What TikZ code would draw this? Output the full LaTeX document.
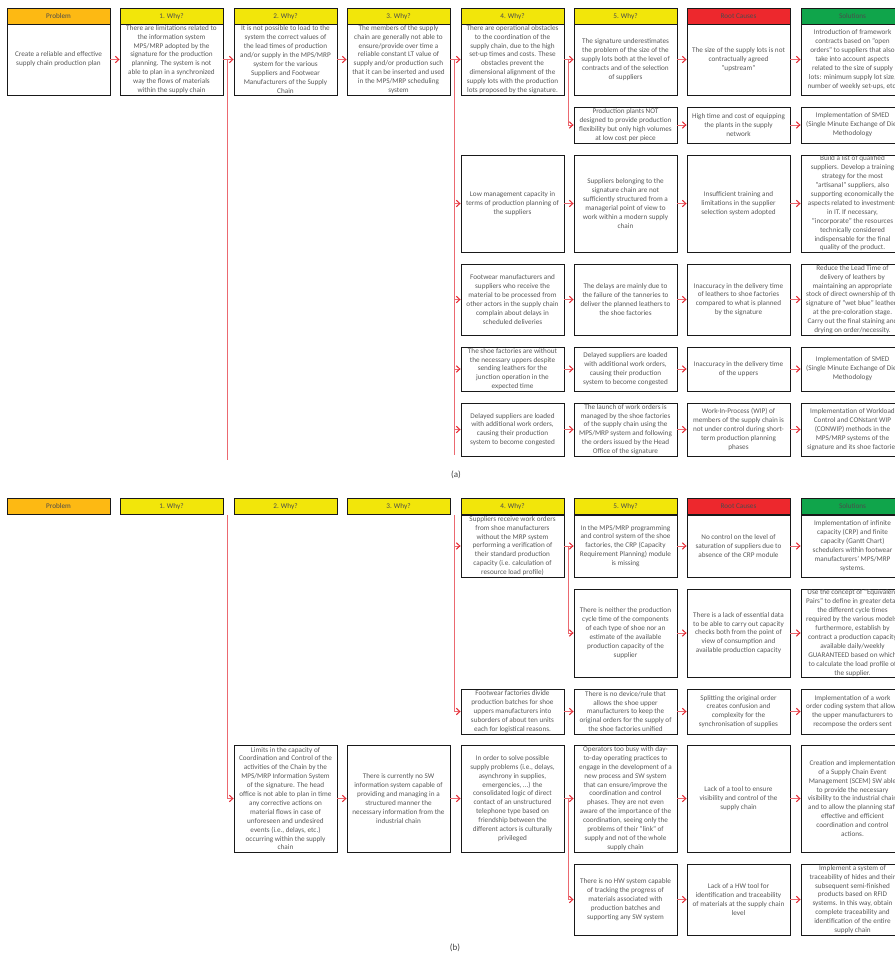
\documentclass[tikz,border=0pt]{standalone}
\usepackage{fontspec}
\setmainfont{Carlito}
\usetikzlibrary{arrows.meta}

\definecolor{probfill}{RGB}{253,185,19}
\definecolor{whyfill}{RGB}{242,230,10}
\definecolor{rootfill}{RGB}{237,40,45}
\definecolor{solfill}{RGB}{16,165,75}
\definecolor{linkpink}{RGB}{235,105,112}
\definecolor{tipred}{RGB}{228,38,48}
\definecolor{boxtext}{RGB}{89,89,89}

% column centres
\def\cP{58.5}
\def\cA{171.5}
\def\cB{285.5}
\def\cC{398.5}
\def\cD{512.5}
\def\cE{625.5}
\def\cR{738.5}
\def\cS{852.5}

% name, x, top, bottom, text
\newcommand{\bodycell}[5]{%
  \node[bodybox, minimum height={(#4-#3)*1pt}] (#1) at (#2, {(#3+#4)/2}) {#5};}

\begin{document}
\begin{tikzpicture}[x=1pt,y=-1pt,
    headbox/.style={draw=black!90, line width=0.9pt, minimum width=103pt,
      minimum height=16.5pt, inner sep=0pt, text=black!70,
      font=\fontsize{7.2}{8.9}\selectfont},
    bodybox/.style={draw=black!90, line width=0.9pt, minimum width=103pt,
      inner sep=0.5pt, align=center, text=boxtext,
      font=\fontsize{7.2}{8.9}\selectfont},
    link/.style={draw=linkpink, line width=1pt},
    arr/.style={link, -{Straight Barb[length=3.5pt,width=6.5pt,color=tipred]}}]

  \useasboundingbox (0,0) rectangle (895,954);
  \clip (0,0) rectangle (895,954);

  % headers of both tables
  \foreach \pn/\yt in {a/8, b/498}
    \foreach \hn/\hx/\hf/\htxt in {p/\cP/probfill/Problem, w1/\cA/whyfill/1. Why?,
        w2/\cB/whyfill/2. Why?, w3/\cC/whyfill/3. Why?, w4/\cD/whyfill/4. Why?,
        w5/\cE/whyfill/5. Why?, rc/\cR/rootfill/Root Causes, so/\cS/solfill/Solutions}
      \node[headbox, fill=\hf] (\pn h-\hn) at (\hx, \yt+8.25) {\htxt};

  % ---------------- (a) ----------------
  \bodycell{a-p}{\cP}{24}{95}{Create a reliable and effective\\supply chain production plan}
  \bodycell{a-w1}{\cA}{24}{95}{There are limitations related to\\the information system\\MPS/MRP adopted by the\\signature for the production\\planning. The system is not\\able to plan in a synchronized\\way the flows of materials\\within the supply chain}
  \bodycell{a-w2}{\cB}{24}{95}{It is not possible to load to the\\system the correct values of\\the lead times of production\\and/or supply in the MPS/MRP\\system for the various\\Suppliers and Footwear\\Manufacturers of the Supply\\Chain}
  \bodycell{a-w3}{\cC}{24}{95}{The members of the supply\\chain are generally not able to\\ensure/provide over time a\\reliable constant LT value of\\supply and/or production such\\that it can be inserted and used\\in the MPS/MRP scheduling\\system}

  \bodycell{a-w4-1}{\cD}{24}{95}{There are operational obstacles\\to the coordination of the\\supply chain, due to the high\\set-up times and costs. These\\obstacles prevent the\\dimensional alignment of the\\supply lots with the production\\lots proposed by the signature.}
  \bodycell{a-w4-2}{\cD}{155}{252}{Low management capacity in\\terms of production planning of\\the suppliers}
  \bodycell{a-w4-3}{\cD}{264}{335}{Footwear manufacturers and\\suppliers who receive the\\material to be processed from\\other actors in the supply chain\\complain about delays in\\scheduled deliveries}
  \bodycell{a-w4-4}{\cD}{347}{391}{The shoe factories are without\\the necessary uppers despite\\sending leathers for the\\junction operation in the\\expected time}
  \bodycell{a-w4-5}{\cD}{403}{456}{Delayed suppliers are loaded\\with additional work orders,\\causing their production\\system to become congested}

  \bodycell{a-w5-1}{\cE}{24}{95}{The signature underestimates\\the problem of the size of the\\supply lots both at the level of\\contracts and of the selection\\of suppliers}
  \bodycell{a-w5-1b}{\cE}{107}{143}{Production plants NOT\\designed to provide production\\flexibility but only high volumes\\at low cost per piece}
  \bodycell{a-w5-2}{\cE}{155}{252}{Suppliers belonging to the\\signature chain are not\\sufficiently structured from a\\managerial point of view to\\work within a modern supply\\chain}
  \bodycell{a-w5-3}{\cE}{264}{335}{The delays are mainly due to\\the failure of the tanneries to\\deliver the planned leathers to\\the shoe factories}
  \bodycell{a-w5-4}{\cE}{347}{391}{Delayed suppliers are loaded\\with additional work orders,\\causing their production\\system to become congested}
  \bodycell{a-w5-5}{\cE}{403}{456}{The launch of work orders is\\managed by the shoe factories\\of the supply chain using the\\MPS/MRP system and following\\the orders issued by the Head\\Office of the signature}

  \bodycell{a-rc-1}{\cR}{24}{95}{The size of the supply lots is not\\contractually agreed\\"upstream"}
  \bodycell{a-rc-1b}{\cR}{107}{143}{High time and cost of equipping\\the plants in the supply\\network}
  \bodycell{a-rc-2}{\cR}{155}{252}{Insufficient training and\\limitations in the supplier\\selection system adopted}
  \bodycell{a-rc-3}{\cR}{264}{335}{Inaccuracy in the delivery time\\of leathers to shoe factories\\compared to what is planned\\by the signature}
  \bodycell{a-rc-4}{\cR}{347}{391}{Inaccuracy in the delivery time\\of the uppers}
  \bodycell{a-rc-5}{\cR}{403}{456}{Work-In-Process (WIP) of\\members of the supply chain is\\not under control during short-\\term production planning\\phases}

  \bodycell{a-so-1}{\cS}{24}{95}{Introduction of framework\\contracts based on "open\\orders" to suppliers that also\\take into account aspects\\related to the size of supply\\lots: minimum supply lot size,\\number of weekly set-ups, etc.}
  \bodycell{a-so-1b}{\cS}{107}{143}{Implementation of SMED\\(Single Minute Exchange of Die)\\Methodology}
  \bodycell{a-so-2}{\cS}{155}{252}{Build a list of qualified\\suppliers. Develop a training\\strategy for the most\\"artisanal" suppliers, also\\supporting economically the\\aspects related to investments\\in IT. If necessary,\\"incorporate" the resources\\technically considered\\indispensable for the final\\quality of the product.}
  \bodycell{a-so-3}{\cS}{264}{335}{Reduce the Lead Time of\\delivery of leathers by\\maintaining an appropriate\\stock of direct ownership of the\\signature of "wet blue" leathers\\at the pre-coloration stage.\\Carry out the final staining and\\drying on order/necessity.}
  \bodycell{a-so-4}{\cS}{347}{391}{Implementation of SMED\\(Single Minute Exchange of Die)\\Methodology}
  \bodycell{a-so-5}{\cS}{403}{456}{Implementation of Workload\\Control and CONstant WIP\\(CONWIP) methods in the\\MPS/MRP systems of the\\signature and its shoe factories}

  \coordinate (a-t1) at (227,460);
  \coordinate (a-t3) at (454,455);
  \draw[arr] (a-p) -- (a-w1);
  \draw[link] (a-w1.east) -| (a-t1);
  \draw[arr] (a-w1) -- (a-w2);
  \draw[arr] (a-w2) -- (a-w3);
  \draw[link] (a-w3.east) -| (a-t3);
  \foreach \r in {1,...,5}
    \draw[arr] (a-w3.east) -- ++(4,0) |- (a-w4-\r.west);
  \foreach \r in {1,...,5}
    \draw[arr] (a-w4-\r) -- (a-w5-\r);
  \draw[arr] (a-w4-1.east) -- ++(4,0) |- (a-w5-1b.west);
  \foreach \r in {1,1b,2,3,4,5} {
    \draw[arr] (a-w5-\r) -- (a-rc-\r);
    \draw[arr] (a-rc-\r) -- (a-so-\r);
  }

  \node[text=black!75, font=\fontsize{9}{10}\selectfont] (capa) at (456,475) {(a)};

  % ---------------- (b) ----------------
  \bodycell{b-w2}{\cB}{745}{852}{Limits in the capacity of\\Coordination and Control of the\\activities of the Chain by the\\MPS/MRP Information System\\of the signature. The head\\office is not able to plan in time\\any corrective actions on\\material flows in case of\\unforeseen and undesired\\events (i.e., delays, etc.)\\occurring within the supply\\chain}
  \bodycell{b-w3}{\cC}{745}{852}{There is currently no SW\\information system capable of\\providing and managing in a\\structured manner the\\necessary information from the\\industrial chain}

  \bodycell{b-w4-1}{\cD}{515}{577}{Suppliers receive work orders\\from shoe manufacturers\\without the MRP system\\performing a verification of\\their standard production\\capacity (i.e. calculation of\\resource load profile)}
  \bodycell{b-w4-3}{\cD}{689}{734}{Footwear factories divide\\production batches for shoe\\uppers manufacturers into\\suborders of about ten units\\each for logistical reasons.}
  \bodycell{b-w4-4}{\cD}{745}{852}{In order to solve possible\\supply problems (i.e., delays,\\asynchrony in supplies,\\emergencies, ...) the\\consolidated logic of direct\\contact of an unstructured\\telephone type based on\\friendship between the\\different actors is culturally\\privileged}

  \bodycell{b-w5-1}{\cE}{515}{577}{In the MPS/MRP programming\\and control system of the shoe\\factories, the CRP (Capacity\\Requirement Planning) module\\is missing}
  \bodycell{b-w5-2}{\cE}{589}{677}{There is neither the production\\cycle time of the components\\of each type of shoe nor an\\estimate of the available\\production capacity of the\\supplier}
  \bodycell{b-w5-3}{\cE}{689}{734}{There is no device/rule that\\allows the shoe upper\\manufacturers to keep the\\original orders for the supply of\\the shoe factories unified}
  \bodycell{b-w5-4}{\cE}{745}{852}{Operators too busy with day-\\to-day operating practices to\\engage in the development of a\\new process and SW system\\that can ensure/improve the\\coordination and control\\phases. They are not even\\aware of the importance of the\\coordination, seeing only the\\problems of their "link" of\\supply and not of the whole\\supply chain}
  \bodycell{b-w5-5}{\cE}{864}{935}{There is no HW system capable\\of tracking the progress of\\materials associated with\\production batches and\\supporting any SW system}

  \bodycell{b-rc-1}{\cR}{515}{577}{No control on the level of\\saturation of suppliers due to\\absence of the CRP module}
  \bodycell{b-rc-2}{\cR}{589}{677}{There is a lack of essential data\\to be able to carry out capacity\\checks both from the point of\\view of consumption and\\available production capacity}
  \bodycell{b-rc-3}{\cR}{689}{734}{Splitting the original order\\creates confusion and\\complexity for the\\synchronisation of supplies}
  \bodycell{b-rc-4}{\cR}{745}{852}{Lack of a tool to ensure\\visibility and control of the\\supply chain}
  \bodycell{b-rc-5}{\cR}{864}{935}{Lack of a HW tool for\\identification and traceability\\of materials at the supply chain\\level}

  \bodycell{b-so-1}{\cS}{515}{577}{Implementation of infinite\\capacity (CRP) and finite\\capacity (Gantt Chart)\\schedulers within footwear\\manufacturers' MPS/MRP\\systems.}
  \bodycell{b-so-2}{\cS}{589}{677}{Use the concept of "Equivalent\\Pairs" to define in greater detail\\the different cycle times\\required by the various models;\\furthermore, establish by\\contract a production capacity\\available daily/weekly\\GUARANTEED based on which\\to calculate the load profile of\\the supplier.}
  \bodycell{b-so-3}{\cS}{689}{734}{Implementation of a work\\order coding system that allows\\the upper manufacturers to\\recompose the orders sent}
  \bodycell{b-so-4}{\cS}{745}{852}{Creation and implementation\\of a Supply Chain Event\\Management (SCEM) SW able\\to provide the necessary\\visibility to the industrial chain\\and to allow the planning staff\\effective and efficient\\coordination and control\\actions.}
  \bodycell{b-so-5}{\cS}{864}{935}{Implement a system of\\traceability of hides and their\\subsequent semi-finished\\products based on RFID\\systems. In this way, obtain\\complete traceability and\\identification of the entire\\supply chain}

  \coordinate (b-s1) at (227,515);
  \coordinate (b-s3) at (454,515);
  \draw[arr] (b-s1) |- (b-w2.west);
  \draw[arr] (b-w2) -- (b-w3);
  \draw[arr] (b-s3) |- (b-w4-1.west);
  \draw[arr] (b-s3) |- (b-w4-3.west);
  \draw[arr] (b-w3) -- (b-w4-4);
  \foreach \r in {1,3,4}
    \draw[arr] (b-w4-\r) -- (b-w5-\r);
  \draw[arr] (b-w4-1.east) -- ++(4,0) |- (b-w5-2.west);
  \draw[arr] (b-w4-4.east) -- ++(4,0) |- (b-w5-5.west);
  \foreach \r in {1,...,5} {
    \draw[arr] (b-w5-\r) -- (b-rc-\r);
    \draw[arr] (b-rc-\r) -- (b-so-\r);
  }

  \node[text=black!75, font=\fontsize{9}{10}\selectfont] (capb) at (455,948) {(b)};
\end{tikzpicture}
\end{document}
